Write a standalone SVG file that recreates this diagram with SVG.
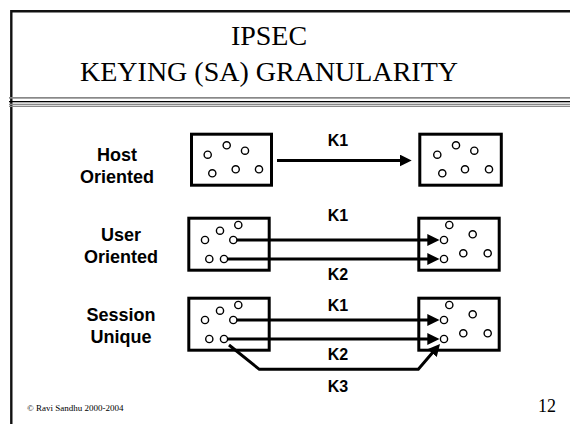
<svg xmlns="http://www.w3.org/2000/svg" width="570" height="424" viewBox="0 0 570 424">
<style>
.title{font-family:"Liberation Serif","Times New Roman",serif;font-size:28px;fill:#000;text-anchor:middle}
.lbl{font-family:"Liberation Sans",Arial,sans-serif;font-weight:bold;font-size:18px;fill:#000;text-anchor:middle}
.key{font-family:"Liberation Sans",Arial,sans-serif;font-weight:bold;font-size:16px;fill:#000;text-anchor:middle}
.box{fill:#fff;stroke:#000;stroke-width:3}
.dot{fill:#fff;stroke:#000;stroke-width:1.4}
.wire{fill:none;stroke:#000;stroke-width:3}
</style>
<defs>
<marker id="ah" markerUnits="userSpaceOnUse" markerWidth="12" markerHeight="12" refX="2" refY="6" orient="auto">
<path d="M0,0 L12,6 L0,12 z" fill="#000"/>
</marker>
</defs>
<rect width="570" height="424" fill="#fff"/>
<g id="frame">
<line x1="11.3" y1="11.2" x2="570" y2="11.2" stroke="#111" stroke-width="2.4"/>
<line x1="11.3" y1="10" x2="11.3" y2="424" stroke="#111" stroke-width="2.4"/>
<rect x="9" y="97" width="561" height="1.7" fill="#888"/>
<rect x="9" y="101" width="561" height="1.3" fill="#000"/>
<rect x="9" y="103.7" width="561" height="1.3" fill="#888"/>
<rect x="9" y="105.7" width="561" height="1.3" fill="#888"/>
</g>
<g id="title">
<text class="title" x="269" y="45">IPSEC</text>
<text class="title" x="269" y="81">KEYING (SA) GRANULARITY</text>
</g>
<g id="label-host"><text class="lbl" x="117" y="161">Host</text><text class="lbl" x="117" y="183">Oriented</text></g>
<g id="label-user"><text class="lbl" x="121" y="241">User</text><text class="lbl" x="121" y="263">Oriented</text></g>
<g id="label-session"><text class="lbl" x="121" y="321">Session</text><text class="lbl" x="121" y="343">Unique</text></g>

<g id="host-left">
<rect class="box" x="191.5" y="134.2" width="80" height="51"/>
<circle class="dot" cx="207.7" cy="154.7" r="3.6"/><circle class="dot" cx="226.7" cy="145.3" r="3.6"/><circle class="dot" cx="245" cy="150.7" r="3.6"/>
<circle class="dot" cx="212.3" cy="173.3" r="3.6"/><circle class="dot" cx="235.7" cy="169.3" r="3.6"/><circle class="dot" cx="259" cy="169.3" r="3.6"/>
</g>
<g id="host-right">
<rect class="box" x="419.8" y="134.2" width="81.5" height="51"/>
<circle class="dot" cx="437.3" cy="154.7" r="3.6"/><circle class="dot" cx="456" cy="145.3" r="3.6"/><circle class="dot" cx="474.3" cy="150.7" r="3.6"/>
<circle class="dot" cx="442.3" cy="173.3" r="3.6"/><circle class="dot" cx="465" cy="169.3" r="3.6"/><circle class="dot" cx="489" cy="169.3" r="3.6"/>
</g>
<g id="user-left">
<rect class="box" x="188.8" y="218.2" width="80.4" height="52"/>
<circle class="dot" cx="205" cy="240" r="3.6"/><circle class="dot" cx="220" cy="230.7" r="3.6"/><circle class="dot" cx="238.3" cy="225" r="3.6"/>
<circle class="dot" cx="233.3" cy="240" r="3.6"/><circle class="dot" cx="209.3" cy="259" r="3.6"/><circle class="dot" cx="224" cy="259" r="3.6"/>
</g>
<g id="user-right">
<rect class="box" x="418.8" y="218.2" width="80.4" height="52"/>
<circle class="dot" cx="444" cy="240" r="3.6"/><circle class="dot" cx="449.3" cy="225" r="3.6"/><circle class="dot" cx="472.7" cy="234.3" r="3.6"/>
<circle class="dot" cx="444" cy="259" r="3.6"/><circle class="dot" cx="463.3" cy="253.3" r="3.6"/><circle class="dot" cx="487.7" cy="253.3" r="3.6"/>
</g>
<g id="session-left">
<rect class="box" x="188.8" y="298.2" width="80.4" height="52"/>
<circle class="dot" cx="205" cy="320" r="3.6"/><circle class="dot" cx="220" cy="310.7" r="3.6"/><circle class="dot" cx="238.3" cy="305" r="3.6"/>
<circle class="dot" cx="233.3" cy="320" r="3.6"/><circle class="dot" cx="209.3" cy="339" r="3.6"/><circle class="dot" cx="224" cy="339" r="3.6"/>
</g>
<g id="session-right">
<rect class="box" x="418.8" y="298.2" width="80.4" height="52"/>
<circle class="dot" cx="444" cy="320" r="3.6"/><circle class="dot" cx="449.3" cy="305" r="3.6"/><circle class="dot" cx="472.7" cy="314.3" r="3.6"/>
<circle class="dot" cx="444" cy="339" r="3.6"/><circle class="dot" cx="463.3" cy="333.3" r="3.6"/><circle class="dot" cx="487.7" cy="333.3" r="3.6"/>
</g>

<g id="connectors">
<line class="wire" x1="277" y1="160.5" x2="401.7" y2="160.5" marker-end="url(#ah)"/>
<line class="wire" x1="237" y1="240" x2="429.3" y2="240" marker-end="url(#ah)"/>
<line class="wire" x1="227.6" y1="259" x2="429.3" y2="259" marker-end="url(#ah)"/>
<line class="wire" x1="237" y1="320" x2="429.3" y2="320" marker-end="url(#ah)"/>
<line class="wire" x1="227.6" y1="339" x2="429.3" y2="339" marker-end="url(#ah)"/>
<polyline class="wire" points="229,345 259.3,369.3 418.3,369.3 433.5,351.6" marker-end="url(#ah)"/>
</g>
<g id="key-labels">
<text class="key" x="338" y="146">K1</text>
<text class="key" x="338" y="221">K1</text>
<text class="key" x="338" y="280">K2</text>
<text class="key" x="338" y="311">K1</text>
<text class="key" x="338" y="360">K2</text>
<text class="key" x="338" y="392">K3</text>
</g>
<g id="footer">
<text x="27" y="411" font-family="Liberation Serif,'Times New Roman',serif" font-size="9" fill="#000">© Ravi Sandhu 2000-2004</text>
<text x="556" y="412" font-family="Liberation Serif,'Times New Roman',serif" font-size="18" fill="#000" text-anchor="end">12</text>
</g>
</svg>
